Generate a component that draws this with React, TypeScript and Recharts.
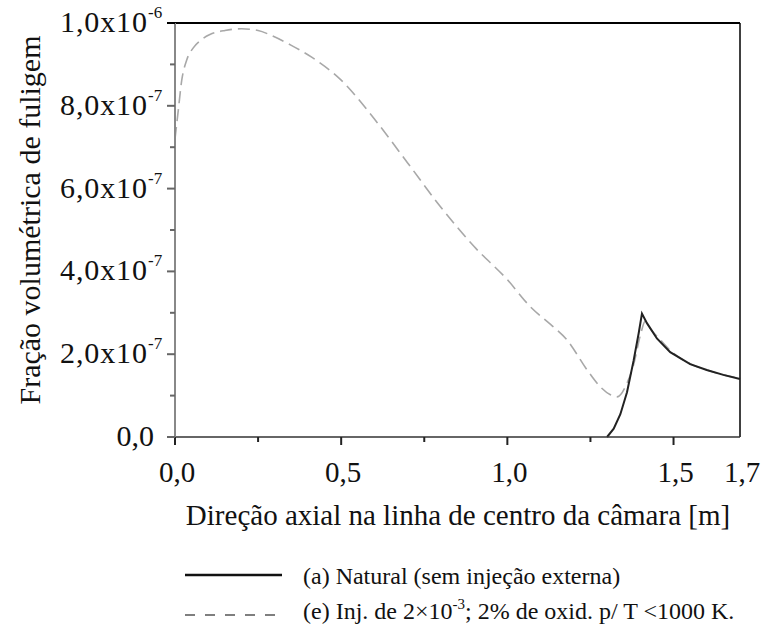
import React from "react";
import { LineChart, Line, XAxis, YAxis, ReferenceLine } from "recharts";

// axial position [m] and soot volume fraction
const injX = [
  0, 0.01, 0.02, 0.035, 0.055, 0.08, 0.105, 0.15, 0.2, 0.25, 0.29, 0.35, 0.41,
  0.5, 0.6, 0.7, 0.8, 0.9, 1.0, 1.07, 1.13, 1.18, 1.24, 1.28, 1.31, 1.33, 1.36,
  1.38, 1.4, 1.415, 1.43, 1.46, 1.5, 1.55, 1.6, 1.65, 1.7,
];
const injY = [
  7.2e-7, 7.9e-7, 8.6e-7, 9.1e-7, 9.4e-7, 9.6e-7, 9.72e-7, 9.82e-7, 9.86e-7,
  9.82e-7, 9.7e-7, 9.46e-7, 9.18e-7, 8.62e-7, 7.68e-7, 6.62e-7, 5.55e-7,
  4.6e-7, 3.8e-7, 3.14e-7, 2.72e-7, 2.34e-7, 1.62e-7, 1.21e-7, 1.02e-7,
  0.97e-7, 1.3e-7, 1.75e-7, 2.45e-7, 2.8e-7, 2.62e-7, 2.35e-7, 2.02e-7,
  1.77e-7, 1.62e-7, 1.5e-7, 1.42e-7,
];

const natX = [1.3, 1.32, 1.34, 1.36, 1.38, 1.395, 1.405, 1.42, 1.45, 1.49, 1.55, 1.6, 1.65, 1.7];
const natY = [
  0, 0.2e-7, 0.55e-7, 1.08e-7, 1.85e-7, 2.5e-7, 2.98e-7, 2.75e-7, 2.38e-7,
  2.05e-7, 1.76e-7, 1.62e-7, 1.5e-7, 1.4e-7,
];

const xTicks = [0, 0.25, 0.5, 0.75, 1.0, 1.25, 1.5, 1.7];
const xLabels: Record<string, string> = { "0": "0,0", "0.5": "0,5", "1": "1,0", "1.5": "1,5", "1.7": "1,7" };
const yTicks = [0, 1e-7, 2e-7, 3e-7, 4e-7, 5e-7, 6e-7, 7e-7, 8e-7, 9e-7, 1e-6];
const yLabels: [string, string][] = [
  ["0,0", ""], ["", ""], ["2,0x10", "-7"], ["", ""], ["4,0x10", "-7"], ["", ""],
  ["6,0x10", "-7"], ["", ""], ["8,0x10", "-7"], ["", ""], ["1,0x10", "-6"],
];

const injData = injX.map((x, i) => ({ x, y: injY[i] }));
const natData = natX.map((x, i) => ({ x, y: natY[i] }));

const FONT = '"Liberation Serif", "Times New Roman", serif';

function XTick(props: any) {
  const { x, y, payload } = props;
  const v = payload.value;
  const label = xLabels[String(v)];
  const isEnd = v === 1.7;
  return (
    <g>
      {!isEnd && (
        <line x1={x} x2={x} y1={y} y2={y + (label ? 8 : 5)} stroke="#222" strokeWidth={2} />
      )}
      {label && (
        <text x={x + 2} y={y + 45} textAnchor="middle" fontFamily={FONT} fontSize={29} fill="#111">
          {label}
        </text>
      )}
    </g>
  );
}

function YTick(props: any) {
  const { x, y, index } = props;
  const [main, sup] = yLabels[index];
  const major = main !== "";
  const top = index === yTicks.length - 1;
  return (
    <g>
      <line x1={x - (major ? 8 : 5)} x2={x} y1={y} y2={y} stroke={top ? "#000" : "#666"} strokeWidth={2} />
      {major && !sup && (
        <text x={x - 21} y={y + 9} textAnchor="end" fontFamily={FONT} fontSize={30} fill="#111">
          {main}
        </text>
      )}
      {major && sup && (
        <g fontFamily={FONT} fill="#111">
          <text x={x - 115} y={y + 9} fontSize={30} textLength={87} lengthAdjust="spacing">
            {main}
          </text>
          <text x={x - 27} y={y - 5} fontSize={17}>
            {sup}
          </text>
        </g>
      )}
    </g>
  );
}

export default function App() {
  return (
    <div style={{ position: "fixed", left: 0, top: 0, width: 764, height: 630, background: "#fff" }}>
      <LineChart width={764} height={630} margin={{ top: 23, right: 24, bottom: 0, left: 0 }}>
        <XAxis
          dataKey="x"
          type="number"
          domain={[0, 1.7]}
          ticks={xTicks}
          interval={0}
          height={193}
          tickSize={0}
          tickMargin={0}
          tick={<XTick />}
          axisLine={{ stroke: "#333", strokeWidth: 1.5 }}
          label={{
            content: () => (
              <text x={458} y={525} textAnchor="middle" fontFamily={FONT} fontSize={29} fill="#111">
                Direção axial na linha de centro da câmara [m]
              </text>
            ),
          }}
        />
        <YAxis
          type="number"
          domain={[0, 1e-6]}
          ticks={yTicks}
          interval={0}
          width={175}
          tickSize={0}
          tickMargin={0}
          tick={<YTick />}
          axisLine={{ stroke: "#888", strokeWidth: 2 }}
          label={{
            content: () => (
              <text
                x={29}
                y={220}
                transform="rotate(-90 29 220)"
                textAnchor="middle"
                dominantBaseline="central"
                fontFamily={FONT}
                fontSize={30}
                fill="#111"
              >
                Fração volumétrica de fuligem
              </text>
            ),
          }}
        />
        <ReferenceLine y={1e-6} stroke="#000" strokeWidth={2} />
        <ReferenceLine x={1.7} stroke="#000" strokeWidth={1.5} />
        <Line
          data={injData}
          dataKey="y"
          type="monotone"
          stroke="#a8a8a8"
          strokeWidth={1.6}
          strokeDasharray="12 6"
          dot={false}
          isAnimationActive={false}
        />
        <Line
          data={natData}
          dataKey="y"
          type="linear"
          stroke="#222"
          strokeWidth={2}
          dot={false}
          isAnimationActive={false}
        />
      </LineChart>
      <svg
        width={764}
        height={630}
        style={{ position: "absolute", left: 0, top: 0, pointerEvents: "none" }}
        fontFamily={FONT}
      >
        <line x1={185} x2={282} y1={575} y2={575} stroke="#111" strokeWidth={2.5} />
        <text x={303} y={584} fontSize={24} fill="#111">
          (a) Natural (sem injeção externa)
        </text>
        <line x1={185} x2={282} y1={615} y2={615} stroke="#555" strokeWidth={1.5} strokeDasharray="10 10" />
        <text x={303} y={619} fontSize={24} fill="#111">
          <tspan>(e) Inj. de 2×10</tspan>
          <tspan dy={-10} fontSize={15}>-3</tspan>
          <tspan dy={10}>; 2% de oxid. p/ T &lt;1000 K.</tspan>
        </text>
      </svg>
    </div>
  );
}
